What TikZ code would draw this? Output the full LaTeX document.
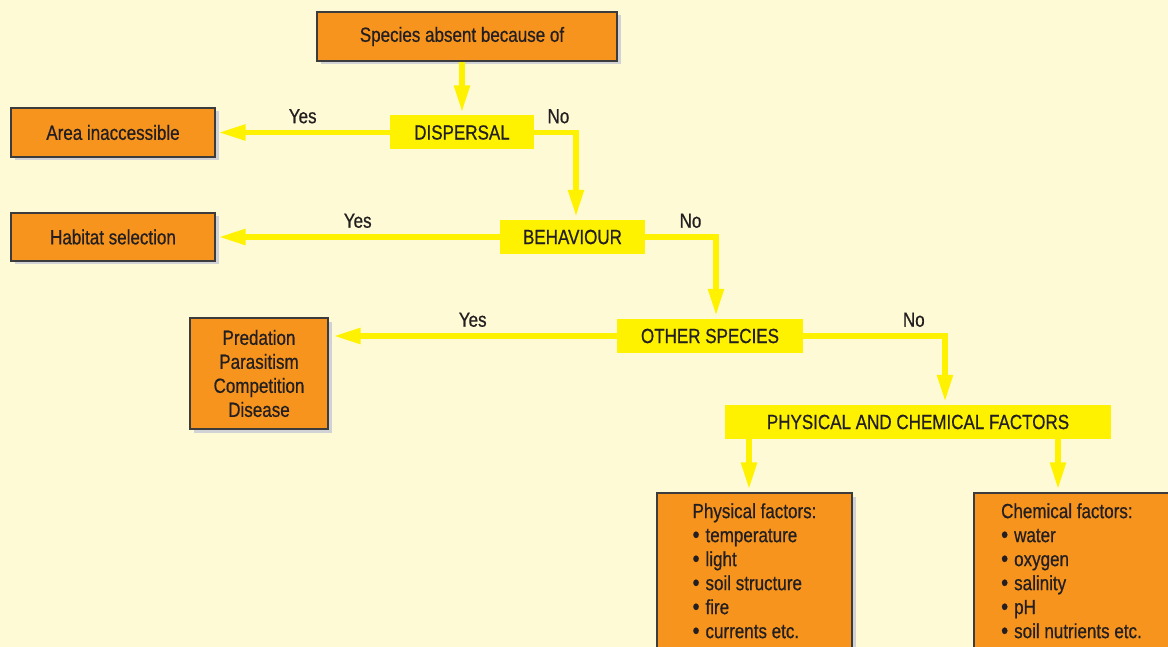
\documentclass[tikz,border=0pt]{standalone}
\usepackage{fontspec}
\setmainfont[FakeStretch=0.83, FakeBold=0.6]{Liberation Sans}
\usetikzlibrary{arrows.meta,shadows}

\definecolor{paper}{HTML}{FFFAD6}
\definecolor{boxorange}{HTML}{F7941E}
\definecolor{qyellow}{HTML}{FFF200}
\definecolor{ink}{HTML}{231F20}
\definecolor{edgegray}{HTML}{3C3C3C}
\definecolor{shade}{HTML}{D0D2D6}

% list bullet, a little heavier than the text one
\newcommand{\blt}{\raisebox{-0.6pt}{\fontsize{24}{24}\selectfont•}\hspace{6pt}}

\begin{document}
\begin{tikzpicture}[
  x=1pt, y=-1pt,
  every node/.style={font=\fontsize{20.5}{24}\selectfont, text=ink},
  result/.style={draw=edgegray, line width=1.2pt, fill=boxorange, align=center, inner sep=0pt,
    drop shadow={shadow xshift=3.5pt, shadow yshift=-3.5pt, fill=shade, opacity=1}},
  question/.style={fill=qyellow, inner sep=0pt, minimum height=34pt},
  flow/.style={draw=qyellow, line width=5.5pt, -{Triangle[length=27pt, width=15pt]}, shorten >=3pt},
  answer/.style={above=3pt}
]
\fill[paper] (0,0) rectangle (1168,647);
\useasboundingbox (0,0) rectangle (1168,647);

% outcomes
\node[result, minimum width=300pt, minimum height=49pt] (start) at (467,36.5) {Species absent because of\hspace*{10pt}};
\node[result, minimum width=204pt, minimum height=49pt] (area) at (113,132.5) {Area inaccessible};
\node[result, minimum width=204pt, minimum height=48pt] (habitat) at (113,237) {Habitat selection};
\node[result, minimum width=138pt, minimum height=111pt] (biotic) at (259,373.5)
  {Predation\\Parasitism\\Competition\\Disease};
\node[result, align=left, minimum width=195pt, minimum height=156pt] (phys) at (754.5,571)
  {Physical factors:\\\blt temperature\\\blt light\\\blt soil structure\\\blt fire\\\blt currents etc.};
\node[result, align=left, minimum width=195pt, minimum height=156pt] (chem) at (1071.5,571)
  {Chemical factors:\\\blt water\\\blt oxygen\\\blt salinity\\\blt pH\\\blt soil nutrients etc.};

% questions
\node[question, minimum width=144pt] (disp) at (462,132.5) {DISPERSAL};
\node[question, minimum width=145pt] (behav) at (572.5,237) {BEHAVIOUR};
\node[question, minimum width=186pt] (other) at (710,336) {OTHER SPECIES};
\node[question, minimum width=386pt] (pcf) at (918,422) {PHYSICAL AND CHEMICAL FACTORS};

% connectors
\draw[flow] (start.south -| disp.north) -- (disp.north);
\draw[flow] (disp.west) -- node[answer] {Yes} (area.east);
\draw[flow] (disp.east) -| node[answer, pos=0.29] {No} ([xshift=3.5pt]behav.north);
\draw[flow] (behav.west) -- node[answer] {Yes} (habitat.east);
\draw[flow] (behav.east) -| node[answer, pos=0.32] {No} ([xshift=6pt]other.north);
\draw[flow, shorten >=5pt] (other.west) -- node[answer] {Yes} (other.west -| biotic.east);
\draw[flow] (other.east) -| node[answer, pos=0.39] {No} ([xshift=27pt]pcf.north);
\draw[flow] ([xshift=-5.5pt]pcf.south -| phys.north) -- ([xshift=-5.5pt]phys.north);
\draw[flow] ([xshift=-13.5pt]pcf.south -| chem.north) -- ([xshift=-13.5pt]chem.north);
\end{tikzpicture}
\end{document}
